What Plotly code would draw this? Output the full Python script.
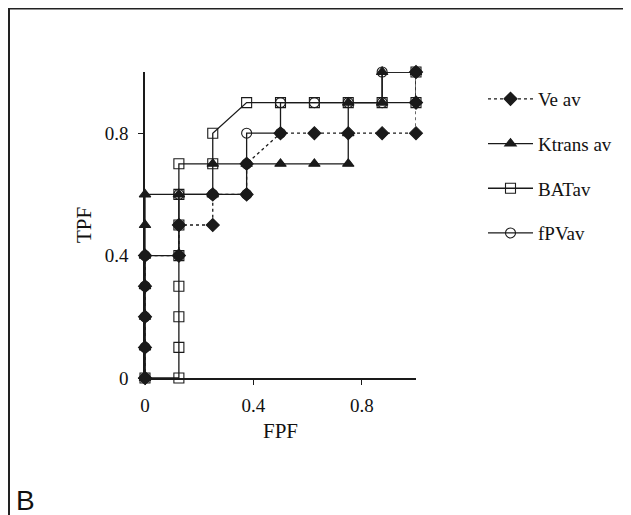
import plotly.graph_objects as go

# ---- data ----
ve_fpf = [0, 0, 0, 0, 0, 0.125, 0.125, 0.25, 0.25, 0.375, 0.375, 0.5, 0.625, 0.75, 0.875, 1, 1, 1]
ve_tpf = [0, 0.1, 0.2, 0.3, 0.4, 0.4, 0.5, 0.5, 0.6, 0.6, 0.7, 0.8, 0.8, 0.8, 0.8, 0.8, 0.9, 1.0]

kt_fpf = [0, 0, 0, 0, 0, 0, 0, 0.125, 0.25, 0.25, 0.375, 0.5, 0.625, 0.75, 0.75, 0.75, 0.875, 0.875, 1]
kt_tpf = [0, 0.1, 0.2, 0.3, 0.4, 0.5, 0.6, 0.6, 0.6, 0.7, 0.7, 0.7, 0.7, 0.7, 0.8, 0.9, 0.9, 1.0, 1.0]

bat_fpf = [0, 0.125, 0.125, 0.125, 0.125, 0.125, 0.125, 0.125, 0.125, 0.25, 0.25, 0.375, 0.5, 0.625, 0.75, 0.875, 1, 1]
bat_tpf = [0, 0, 0.1, 0.2, 0.3, 0.4, 0.5, 0.6, 0.7, 0.7, 0.8, 0.9, 0.9, 0.9, 0.9, 0.9, 0.9, 1.0]

fpv_fpf = [0, 0, 0, 0, 0, 0.125, 0.125, 0.125, 0.25, 0.375, 0.375, 0.375, 0.5, 0.5, 0.625, 0.75, 0.875, 0.875, 1]
fpv_tpf = [0, 0.1, 0.2, 0.3, 0.4, 0.4, 0.5, 0.6, 0.6, 0.6, 0.7, 0.8, 0.8, 0.9, 0.9, 0.9, 0.9, 1.0, 1.0]

tick_vals = [0, 0.4, 0.8]
tick_text = ["0", "0.4", "0.8"]

INK = "#1a1a1a"
SERIF = "Liberation Serif"

fig = go.Figure()

def add(x, y, name, symbol, size, dash, rank, group):
    fig.add_trace(go.Scatter(
        x=x, y=y, name=name, mode="lines+markers",
        line=dict(color=INK, width=1.3, dash=dash),
        marker=dict(symbol=symbol, size=size, color=INK,
                    line=dict(color=INK, width=1.1)),
        cliponaxis=False, legendrank=rank, legendgroup=group,
    ))

add(bat_fpf, bat_tpf, "BATav", "square-open", 10, "solid", 3, "c")
add(fpv_fpf, fpv_tpf, "fPVav", "circle-open", 10, "solid", 4, "d")
add(kt_fpf, kt_tpf, "Ktrans av", "triangle-up", 10, "solid", 2, "b")
add(ve_fpf, ve_tpf, "Ve av", "diamond", 10, "dot", 1, "a")

# page is offset by the 8px body margin
OFF = 8
W, H = 631 - OFF, 515 - OFF
L, T = 145 - OFF, 72 - OFF
R = W - (416 - OFF)
B = H - (378 - OFF)
pw, ph = W - L - R, H - T - B

def px(xpage):
    return (xpage - OFF - L) / pw

def py(ypage):
    return (H - B - (ypage - OFF)) / ph

fig.add_shape(type="rect", xref="paper", yref="paper",
              x0=px(9), x1=px(629), y0=py(540), y1=py(8.5),
              line=dict(color="#222", width=2), layer="below")

fig.add_annotation(text="B", xref="paper", yref="paper", x=px(14), y=py(500),
                   xanchor="left", yanchor="middle", showarrow=False,
                   font=dict(family="Liberation Sans", size=28, color="#111"))

fig.update_layout(
    width=W, height=H,
    margin=dict(l=L, r=R, t=T, b=B, autoexpand=False),
    paper_bgcolor="white", plot_bgcolor="white",
    font=dict(family=SERIF, size=19, color="#111"),
    showlegend=True,
    legend=dict(x=px(483), y=py(80), xanchor="left", yanchor="top",
                font=dict(family=SERIF, size=19, color="#111"),
                tracegroupgap=17, itemwidth=45, bgcolor="rgba(0,0,0,0)"),
    xaxis=dict(range=[0, 1], showgrid=False, zeroline=False,
               showline=True, linecolor=INK, linewidth=1.5,
               ticks="outside", ticklen=5, tickcolor=INK,
               tickvals=tick_vals, ticktext=tick_text,
               ticklabelstandoff=4,
               title=dict(text="FPF", font=dict(size=21, color="#111"), standoff=9)),
    yaxis=dict(range=[0, 1], showgrid=False, zeroline=False,
               showline=True, linecolor=INK, linewidth=1.5,
               ticks="outside", ticklen=5, tickcolor=INK,
               tickvals=tick_vals, ticktext=tick_text,
               ticklabelstandoff=6,
               title=dict(text="TPF", font=dict(size=21, color="#111"), standoff=7)),
)

fig.write_html("out.html")
